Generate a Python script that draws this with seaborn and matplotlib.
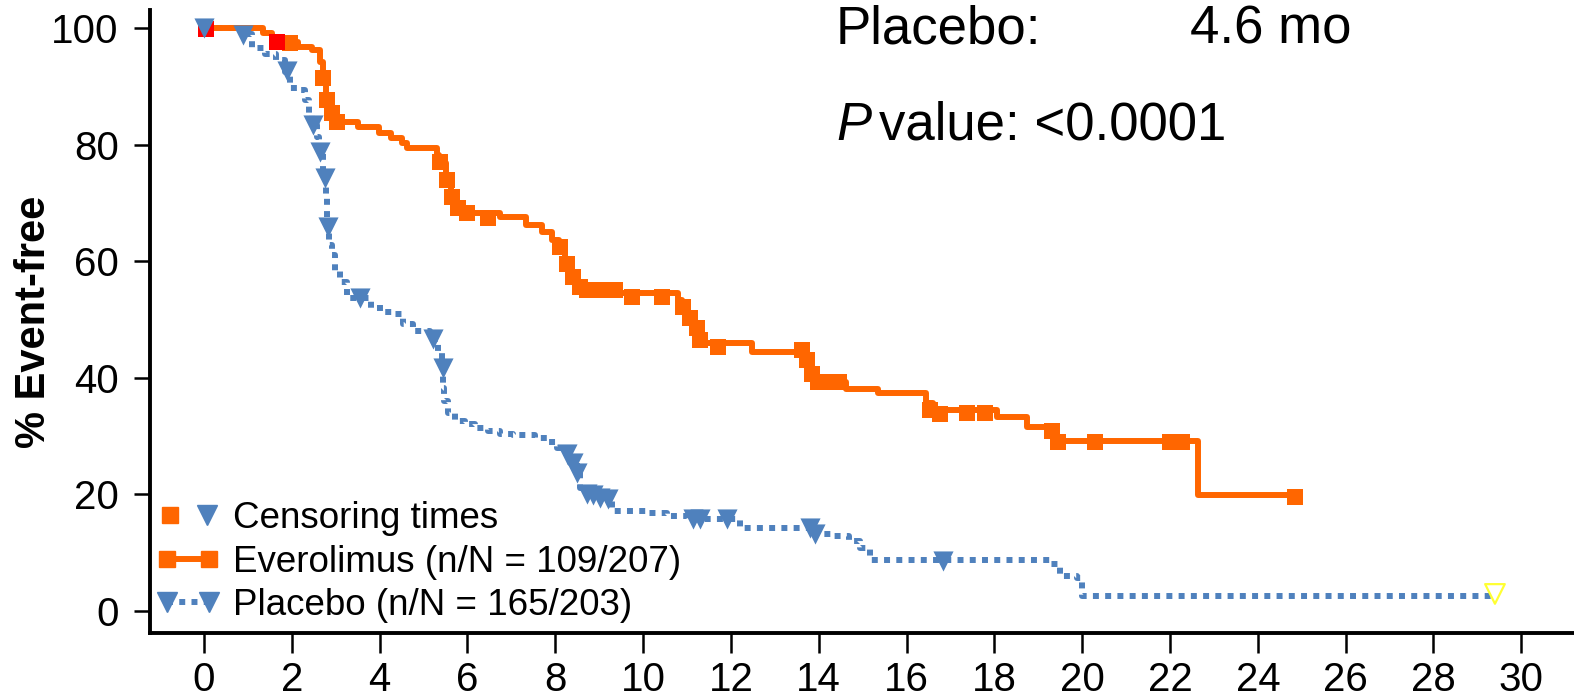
import numpy as np
import pandas as pd
import seaborn as sns
import matplotlib.pyplot as plt
from matplotlib.lines import Line2D
from matplotlib.legend_handler import HandlerTuple, HandlerLine2D

# Everolimus Kaplan-Meier steps (months, % event-free)
evero_t = [0, 1.35, 1.55, 1.85, 2.15, 2.45, 2.65, 2.7, 2.78, 2.86, 2.93, 3.0, 3.5, 3.98,
           4.25, 4.5, 4.62, 5.3, 5.36, 5.5, 5.62, 5.75, 5.9, 6.75, 7.33, 7.7, 7.93, 8.08,
           8.22, 8.35, 8.48, 8.55, 9.45, 10.8, 10.88, 11.0, 11.15, 11.25, 11.35, 12.48,
           13.65, 13.78, 13.93, 14.62, 15.35, 16.45, 16.6, 18.05, 18.75, 19.3, 19.42,
           22.64, 24.85]
evero_s = [100, 99.2, 98.3, 97.6, 96.7, 96.2, 94.2, 91.4, 88.1, 86.4, 85.0, 83.8, 83.0, 82.0,
           81.2, 80.2, 79.4, 78.2, 76.8, 73.9, 71.0, 69.1, 68.2, 67.5, 66.2, 65.0, 63.6, 62.4,
           60.1, 57.9, 56.2, 55.0, 54.5, 53.3, 52.1, 50.3, 48.6, 46.4, 45.9, 44.5,
           43.0, 40.7, 39.2, 38.1, 37.3, 35.6, 34.4, 33.2, 31.5, 30.8, 29.2,
           19.9, 19.9]

# Everolimus censoring times
evero_cens_t = [1.96, 2.71, 2.8, 2.92, 3.03, 5.38, 5.54, 5.65, 5.79, 6.0, 6.47, 8.11, 8.27,
                8.41, 8.56, 8.72, 8.9, 9.1, 9.35, 9.75, 10.43, 10.91, 11.07, 11.23, 11.3,
                11.71, 13.62, 13.74, 13.85, 13.99, 14.2, 14.45, 16.54, 16.77, 17.38, 17.79,
                19.32, 19.45, 20.3, 22.0, 22.28, 24.85]
evero_cens_s = [97.4, 91.4, 87.6, 85.4, 83.8, 77.0, 73.9, 71.0, 69.1, 68.2, 67.4, 62.4, 59.6,
                57.2, 55.5, 55.0, 55.0, 55.0, 55.0, 53.8, 53.8, 52.1, 50.3, 48.6, 46.4,
                45.2, 44.7, 43.0, 40.7, 39.2, 39.2, 39.2, 34.4, 33.8, 34.0, 34.0,
                30.9, 29.0, 29.0, 29.0, 29.0, 19.6]

# Placebo Kaplan-Meier steps
placebo_t = [0, 0.85, 1.1, 1.4, 1.65, 1.85, 1.95, 2.15, 2.3, 2.4, 2.47, 2.58, 2.63, 2.72,
             2.77, 2.8, 2.85, 2.92, 2.98, 3.1, 3.26, 3.8, 4.08, 4.35, 4.53, 4.76, 5.15,
             5.33, 5.42, 5.45, 5.47, 5.56, 5.72, 5.95, 6.17, 6.47, 6.74, 7.04, 7.27, 7.54,
             7.81, 8.04, 8.25, 8.34, 8.5, 8.56, 8.79, 8.95, 9.18, 9.29, 10.09, 10.55, 11.0,
             12.2, 13.85, 14.3, 14.7, 14.94, 15.17, 19.3, 19.5, 19.89, 20.0, 29.4]
placebo_s = [100, 99.0, 96.5, 95.5, 94.5, 92.4, 89.7, 89.3, 87.6, 85.4, 83.3, 81.3, 78.7, 74.2,
             71.0, 65.8, 62.7, 61.0, 58.4, 56.4, 53.6, 51.9, 51.2, 51.0, 49.3, 48.1, 46.7,
             44.2, 41.6, 38.3, 36.0, 34.0, 32.6, 32.1, 31.3, 30.9, 30.4, 30.2, 30.1, 29.7,
             28.9, 28.0, 27.0, 25.3, 24.1, 21.1, 20.1, 19.4, 19.2, 17.2, 16.8, 16.3, 15.8,
             14.3, 13.2, 12.9, 12.0, 10.8, 8.7, 8.1, 6.0, 5.7, 2.6, 2.6]

# Placebo censoring times
placebo_cens_t = [0, 0.89, 1.89, 2.48, 2.64, 2.76, 2.82, 3.55, 5.22, 5.44, 8.27, 8.41, 8.5,
                  8.72, 8.86, 9.02, 9.2, 11.14, 11.3, 11.91, 13.8, 13.92, 16.83]
placebo_cens_s = [100, 98.8, 92.6, 83.3, 78.7, 74.2, 65.8, 53.6, 46.7, 41.6, 27.0, 25.3, 23.7,
                  20.1, 19.8, 19.4, 19.2, 15.8, 15.8, 15.8, 14.3, 13.2, 8.6]

# odd highlighted marks in the original
red_t = [0.05, 1.66]
red_s = [99.9, 97.6]
yellow_t = [29.4]
yellow_s = [2.9]

x_ticks = list(range(0, 31, 2))
y_ticks = list(range(0, 101, 20))
labels = ['Censoring times', 'Everolimus (n/N = 109/207)', 'Placebo (n/N = 165/203)']

orange = '#FF6600'
blue = '#4F81BD'
dots = (0, (1.0, 1.05))
lw = 4.3

sns.set_theme(style='ticks')
plt.rcParams['font.family'] = ['Liberation Sans', 'DejaVu Sans']
plt.rcParams.update({'text.color': 'black', 'axes.labelcolor': 'black',
                     'xtick.color': 'black', 'ytick.color': 'black'})

fig = plt.figure(figsize=(15.74, 6.99), dpi=100)
ax = fig.add_axes([150 / 1574, 1 - 633 / 699, 1 - 150 / 1574, (633 - 10) / 699])

evero = pd.DataFrame({'t': evero_t, 's': evero_s})
placebo = pd.DataFrame({'t': placebo_t, 's': placebo_s})

sns.lineplot(data=placebo, x='t', y='s', drawstyle='steps-post', estimator=None, sort=False,
             color=blue, linewidth=lw, linestyle=dots, ax=ax, zorder=2)
sns.lineplot(data=evero, x='t', y='s', drawstyle='steps-post', estimator=None, sort=False,
             color=orange, linewidth=lw, ax=ax, zorder=3)
sns.scatterplot(x=evero_cens_t, y=evero_cens_s, marker='s', s=125, color=orange,
                linewidth=0, ax=ax, zorder=4)
sns.scatterplot(x=red_t, y=red_s, marker='s', s=125, color='#FF0000', linewidth=0,
                ax=ax, zorder=5)
sns.scatterplot(x=placebo_cens_t, y=placebo_cens_s, marker='v', s=210, color=blue,
                linewidth=0, ax=ax, zorder=6)
sns.scatterplot(x=yellow_t, y=yellow_s, marker='v', s=200, facecolor='none',
                edgecolor='#FFFF33', linewidth=1.6, ax=ax, zorder=6)

ax.set_xlim(-1.23, 31.2)
ax.set_ylim(-3.8, 103.1)
ax.set_xticks(x_ticks)
ax.set_yticks(y_ticks)
ax.set_xlabel('')
ax.set_ylabel('% Event-free', fontsize=30, fontweight='bold', labelpad=-2)
ax.tick_params(axis='both', labelsize=29, width=1.8)
ax.tick_params(axis='y', length=11.5, pad=11)
ax.tick_params(axis='x', length=14.5, pad=6)
sns.despine(ax=ax)
for side in ['left', 'bottom']:
    ax.spines[side].set_linewidth(2.8)
    ax.spines[side].set_color('black')

# legend
cens_sq = Line2D([], [], marker='s', color=orange, linestyle='none', markersize=11)
cens_tri = Line2D([], [], marker='v', color=blue, linestyle='none', markersize=14)
evero_h = Line2D([], [], color=orange, lw=lw, marker='s', markersize=12)
plac_h = Line2D([], [], color=blue, lw=lw, linestyle=dots, marker='v', markersize=14)
ax.legend([(cens_sq, cens_tri), evero_h, plac_h], labels,
          handler_map={tuple: HandlerTuple(ndivide=None, pad=0.25),
                       cens_sq: HandlerLine2D(numpoints=1),
                       cens_tri: HandlerLine2D(numpoints=1)},
          numpoints=2, loc='lower left', bbox_to_anchor=(156 / 1574, 1 - 623 / 699),
          bbox_transform=fig.transFigure, frameon=False, fontsize=26.5,
          handlelength=1.75, handletextpad=0.35, labelspacing=0.23, borderpad=0,
          borderaxespad=0)

# annotations
fig.text(836 / 1574, 1 - 43 / 699, 'Placebo:', fontsize=38, va='baseline', ha='left')
fig.text(1190 / 1574, 1 - 43 / 699, '4.6 mo', fontsize=38, va='baseline', ha='left')
fig.text(836 / 1574, 1 - 140 / 699, 'P', fontsize=38, style='italic', va='baseline', ha='left')
fig.text(879 / 1574, 1 - 140 / 699, 'value: <0.0001', fontsize=38, va='baseline', ha='left')

fig.savefig('out.png', dpi=100)
